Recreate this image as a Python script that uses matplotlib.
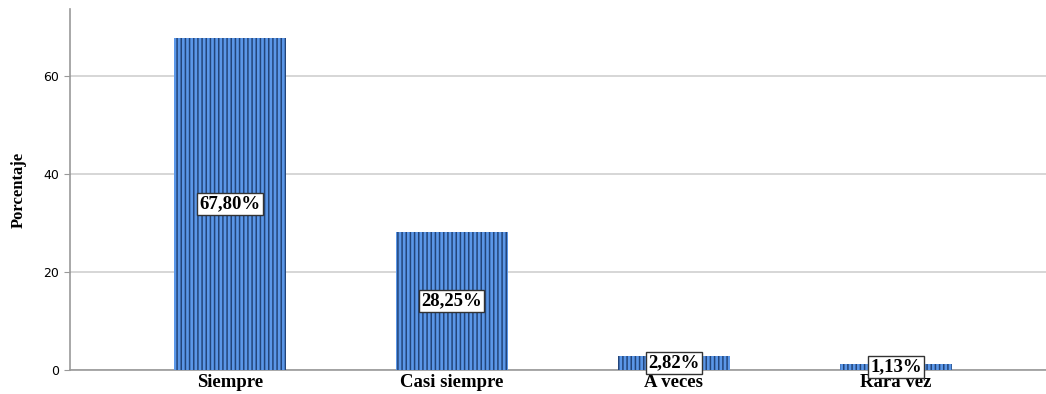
import matplotlib
matplotlib.use("Agg")
import matplotlib.pyplot as plt

categories = ["Siempre", "Casi siempre", "A veces", "Rara vez"]
values = [67.80, 28.25, 2.82, 1.13]
labels = ["67,80%", "28,25%", "2,82%", "1,13%"]

plt.rcParams["hatch.linewidth"] = 1.1
plt.rcParams["hatch.color"] = "#23457a"

fig = plt.figure(figsize=(10.46, 3.94), dpi=100)
ax = fig.add_axes([70 / 1046, 24 / 394, 976 / 1046, 361 / 394])

x = range(len(categories))
ax.bar(x, values, width=0.505, color="#5b97e8", edgecolor="#23457a",
       hatch="||||", linewidth=0, zorder=3)

for xi, v, lab in zip(x, values, labels):
    ax.text(xi, v / 2, lab, ha="center", va="center", fontsize=13.5,
            family="Liberation Serif", fontweight="bold", zorder=5,
            bbox=dict(boxstyle="square,pad=0.12", fc="white", ec="#333333", lw=1))

ax.set_xlim(-0.72, 3.676)
ax.set_ylim(0, 73.7)
ax.set_yticks([0, 20, 40, 60])
ax.set_xticks(list(x))
ax.set_xticklabels(categories, family="Liberation Serif", fontweight="bold",
                   fontsize=13.5)
ax.tick_params(axis="x", length=0, pad=3)
ax.tick_params(axis="y", length=4, color="#999999", labelsize=9, pad=4)
ax.grid(axis="y", color="#d0d0d0", lw=1.2, zorder=0)
for s in ["top", "right"]:
    ax.spines[s].set_visible(False)
for s in ["left", "bottom"]:
    ax.spines[s].set_color("#999999")
    ax.spines[s].set_linewidth(1.2)
ax.set_ylabel("Porcentaje", family="Liberation Serif", fontsize=12,
              fontweight="bold", labelpad=12)

fig.savefig("out.png", dpi=100)
